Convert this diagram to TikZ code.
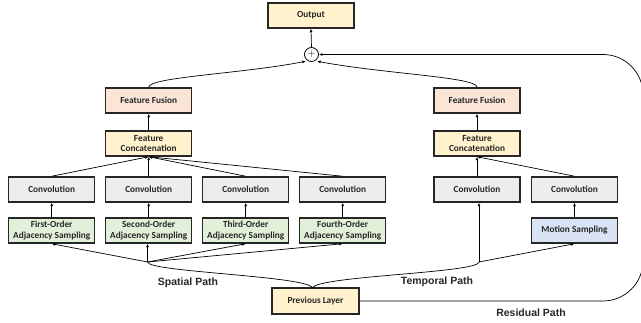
\documentclass[tikz,border=0pt]{standalone}
\usepackage{fontspec}
\setmainfont{Carlito}
\newfontfamily\labfont{Liberation Sans}
\usetikzlibrary{arrows.meta}
\definecolor{cyel}{HTML}{FFF2CC}
\definecolor{cpink}{HTML}{FBE5D6}
\definecolor{cgray}{HTML}{EDEDED}
\definecolor{cgreen}{HTML}{E2F0D9}
\definecolor{cblue}{HTML}{DAE3F3}
\definecolor{cedge}{HTML}{262626}
\tikzset{
  box/.style={draw=cedge, line width=1.5pt, minimum width=86pt, minimum height=25pt,
    inner sep=1pt, align=center, font=\bfseries\fontsize{9.3}{11}\selectfont, text=black!85},
  twoline/.style={font=\bfseries\fontsize{9.3}{10.3}\selectfont},
  yelbox/.style={box, fill=cyel},
  pinkbox/.style={box, fill=cpink},
  graybox/.style={box, fill=cgray},
  greenbox/.style={box, fill=cgreen},
  bluebox/.style={box, fill=cblue},
  conn/.style={line width=0.7pt, draw=black, -{Latex[length=3.5pt,width=3pt]}},
  plain/.style={line width=0.7pt, draw=black},
  pathlab/.style={font=\labfont\bfseries\fontsize{10.5}{12}\selectfont, text=black!85}
}
\begin{document}
\begin{tikzpicture}[x=1pt,y=1pt]
\useasboundingbox (0,0) rectangle (641,323);
% top
\node[yelbox] (out) at (311,307.5) {Output};
\node[draw=black, line width=0.8pt, circle, minimum size=14pt, inner sep=0pt, font=\fontsize{10}{10}\selectfont] (plus) at (311.5,268.5) {$+$};
% spatial
\node[pinkbox] (ffl) at (148.7,222.5) {Feature Fusion};
\node[yelbox, twoline] (fcl) at (148.7,179.5) {Feature\\Concatenation};
\node[graybox] (c1) at (51.7,133.5) {Convolution};
\node[graybox] (c2) at (148.7,133.5) {Convolution};
\node[graybox] (c3) at (245.7,133.5) {Convolution};
\node[graybox] (c4) at (342.7,133.5) {Convolution};
\node[greenbox, twoline] (s1) at (51.7,92.5) {First-Order\\Adjacency Sampling};
\node[greenbox, twoline] (s2) at (148.7,92.5) {Second-Order\\Adjacency Sampling};
\node[greenbox, twoline] (s3) at (245.7,92.5) {Third-Order\\Adjacency Sampling};
\node[greenbox, twoline] (s4) at (342.7,92.5) {Fourth-Order\\Adjacency Sampling};
% temporal
\node[pinkbox] (ffr) at (477,222.5) {Feature Fusion};
\node[yelbox, twoline] (fcr) at (477,179.5) {Feature\\Concatenation};
\node[graybox] (c5) at (477,133.5) {Convolution};
\node[graybox] (c6) at (574.5,133.5) {Convolution};
\node[bluebox] (m) at (574.5,92.5) {Motion Sampling};
% previous
\node[yelbox, minimum width=87pt, minimum height=26pt] (prev) at (315.5,22) {Previous Layer};
% labels
\node[pathlab] (lsp) at (188,40) {Spatial Path};
\node[pathlab] (ltp) at (437,41) {Temporal Path};
\node[pathlab] (lrp) at (531,10.5) {Residual Path};
% hubs
\coordinate (sh) at (147.5,61);
\coordinate (th) at (479,61);
\coordinate (pj) at (312.5,35);
\coordinate (rc1) at (643,22);
\coordinate (rc2) at (643,268.5);
% arrows in spatial
\draw[conn] (sh) -- (s1.south);
\draw[conn] (sh) -- (sh |- s2.south);
\draw[conn] (sh) -- (s3.south);
\draw[conn] (sh) -- (s4.south);
\foreach \i in {1,2,3,4} {\draw[conn] (s\i.north) -- (c\i.south);}
\draw[conn] (c1.north) -- (fcl.south);
\draw[conn] (c2.north) -- (fcl.south);
\draw[conn] (c3.north) -- (fcl.south);
\draw[conn] (c4.north) -- (fcl.south);
\draw[conn] (fcl.north) -- (ffl.south);
% temporal arrows
\draw[conn] (th) -- (th |- c5.south);
\draw[conn] (th) -- (m.south);
\draw[conn] (m.north) -- (c6.south);
\draw[conn] (c5.north) -- (fcr.south);
\draw[conn] (c6.north) -- (fcr.south);
\draw[conn] (fcr.north) -- (ffr.south);
% from previous layer
\draw[plain] (pj) .. controls (309,47) and (147.5,51) .. (sh);
\draw[plain] (pj) .. controls (316,47) and (479,50) .. (th);
% to plus
\draw[conn, shorten >=2pt] (ffl.north) .. controls (149,246) and (240,249) .. (plus.240);
\draw[conn, shorten >=2pt] (ffr.north) .. controls (477,246) and (385,249) .. (plus.300);
\draw[conn] (plus.north) -- (out.south);
% residual
\draw[conn, rounded corners=40pt] (prev.east) -- (rc1) -- (rc2) -- (plus.east);
\end{tikzpicture}
\end{document}
